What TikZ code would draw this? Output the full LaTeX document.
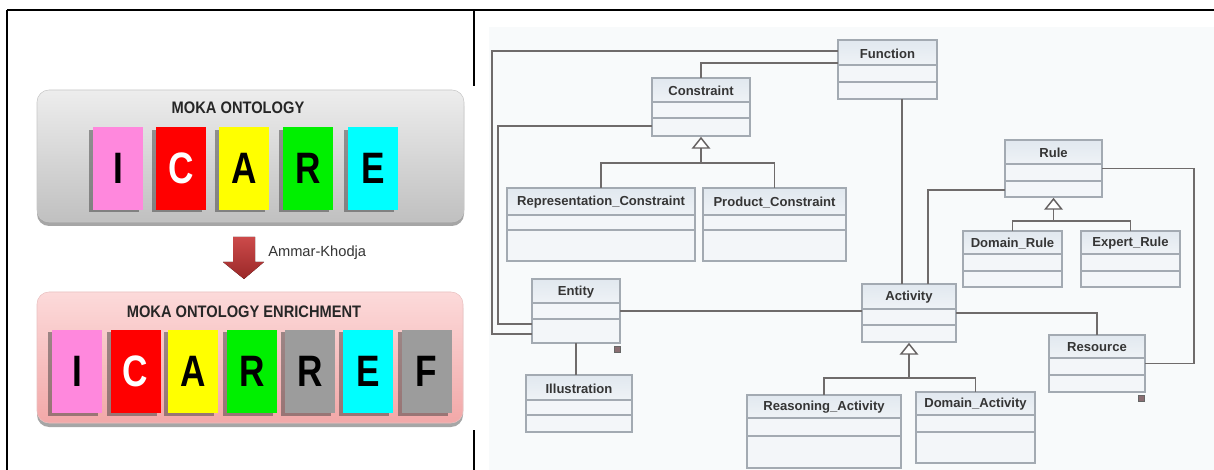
\documentclass[tikz,border=0pt]{standalone}
\usepackage{fontspec}
\usepackage{graphicx}
\setmainfont{Liberation Sans}
\newfontfamily\narrowsans{Liberation Sans}[FakeStretch=0.88]
\usetikzlibrary{calc,fit,shadows}

\definecolor{tilepink}{HTML}{FF88DD}
\definecolor{tilered}{HTML}{FF0000}
\definecolor{tileyellow}{HTML}{FFFF00}
\definecolor{tilegreen}{HTML}{00F000}
\definecolor{tilecyan}{HTML}{00FFFF}
\definecolor{tilegray}{HTML}{9C9C9C}
\definecolor{umlline}{HTML}{A3AAB2}
\definecolor{umlhead}{HTML}{E1E8EF}
\definecolor{umlbody}{HTML}{F3F6F9}
\definecolor{connline}{HTML}{6F6B6B}
\definecolor{inktext}{HTML}{353535}
\definecolor{paneback}{HTML}{F8FAFB}
\definecolor{greytop}{HTML}{EDEDED}
\definecolor{greybot}{HTML}{C0C0C0}
\definecolor{pinktop}{HTML}{FCDADA}
\definecolor{pinkbot}{HTML}{F2A8A8}
\definecolor{arrowtop}{HTML}{CC4A4A}
\definecolor{arrowbot}{HTML}{9A2828}
\definecolor{markfill}{HTML}{8A6E72}

% narrowed bold capital for the letter tiles
\newcommand\tilechar[1]{\scalebox{0.8}[1]{\bfseries\fontsize{33}{33}\selectfont #1}}

\tikzset{
  x=0.75pt, y=-0.75pt,
  frame/.style={line width=1.5pt, black},
  panel/.style={rounded corners=9pt, inner sep=0pt, outer sep=0pt,
    drop shadow={shadow xshift=0pt, shadow yshift=-3pt, opacity=0.35, fill=black}},
  paneltitle/.style={font=\narrowsans\bfseries\fontsize{12.5}{14}\selectfont, text=black!85, inner sep=0pt},
  tile/.style={inner sep=0pt, minimum width=37.5pt, minimum height=62pt,
    drop shadow={shadow xshift=-3pt, shadow yshift=-2pt, fill=black!75, opacity=0.5}},
  umlframe/.style={inner sep=0pt, outer sep=0pt, fill=umlbody},
  umlhead/.style={top color=umlhead, bottom color=umlhead!55!white},
  umledge/.style={draw=umlline, line width=1pt},
  umltext/.style={font=\bfseries\fontsize{9.8}{11}\selectfont, text=inktext, inner sep=0pt},
  conn/.style={draw=connline, line width=1.4pt},
  gentri/.style={draw=connline!90!black, line width=1.1pt, fill=white, line join=miter},
  marker/.style={draw=black!60, fill=markfill, minimum size=4.5pt, inner sep=0pt, line width=0.5pt},
}

% UML class: name, x1, y1, x2, y2, first separator, second separator, title
\newcommand\umlclass[8]{%
  \node[umlframe, fit={(#2,#3) (#4,#5)}] (#1) {};
  \path[umlhead] (#2,#3) rectangle (#4,#6);
  \draw[umledge] (#2,#6) -- (#4,#6) (#2,#7) -- (#4,#7);
  \draw[umledge] (#1.north west) rectangle (#1.south east);
  \node[umltext] (#1-title) at ({(#2+#4)/2},{(#3+#6)/2+1}) {#8};
}

% generalisation triangle under a class, with the stem down to the bar
\newcommand\umlgen[2]{%
  \draw[conn] ($(#1.south)+(0,12)$) -- ($(#1.south)+(0,#2)$) coordinate (#1-bar);
  \draw[gentri] ($(#1.south)+(0,2)$) -- ++(8,10) -- ++(-16,0) -- cycle;
}

\begin{document}
\begin{tikzpicture}
\useasboundingbox (0,0) rectangle (1214,470);
\fill[white] (0,0) rectangle (1214,470);
\fill[paneback] (489,27) rectangle (1214,470);

% table rules
\draw[frame] (7,10) -- (1214,10);
\draw[frame] (7,10) -- (7,470);
\draw[frame] (474,10) -- (474,86);
\draw[frame] (474,430) -- (474,470);

% ---------- left: MOKA ontology ----------
\node[panel, draw=black!22, top color=greytop, bottom color=greybot,
      fit={(37,90) (464,222)}] (moka) {};
\node[paneltitle] (moka-title) at (238,108) {MOKA ONTOLOGY};
\node[tile, fill=tilepink]   (m1) at (118,168.5) {\tilechar{I}};
\node[tile, fill=tilered, text=white] (m2) at (181,168.5) {\tilechar{C}};
\node[tile, fill=tileyellow] (m3) at (244,168.5) {\tilechar{A}};
\node[tile, fill=tilegreen]  (m4) at (308,168.5) {\tilechar{R}};
\node[tile, fill=tilecyan]   (m5) at (373,168.5) {\tilechar{E}};

% enrichment arrow
\fill[top color=arrowtop, bottom color=arrowbot]
  (233,237) -- (255,237) -- (255,262) -- (264,262) -- (244,279)
  -- (223,262) -- (233,262) -- cycle;
\node[anchor=west, font=\fontsize{11}{13}\selectfont, text=inktext, inner sep=0pt]
  (author) at (268,253) {Ammar-Khodja};

\node[panel, draw=pinkbot!90!black!60, top color=pinktop, bottom color=pinkbot,
      fit={(37,292) (463,423)}] (enrich) {};
\node[paneltitle] (enrich-title) at (244,312) {MOKA ONTOLOGY ENRICHMENT};
\node[tile, minimum height=62.5pt, fill=tilepink]   (e1) at (77,371.5) {\tilechar{I}};
\node[tile, minimum height=62.5pt, fill=tilered, text=white] (e2) at (135.5,371.5) {\tilechar{C}};
\node[tile, minimum height=62.5pt, fill=tileyellow] (e3) at (193,371.5) {\tilechar{A}};
\node[tile, minimum height=62.5pt, fill=tilegreen]  (e4) at (252,371.5) {\tilechar{R}};
\node[tile, minimum height=62.5pt, fill=tilegray]   (e5) at (310,371.5) {\tilechar{R}};
\node[tile, minimum height=62.5pt, fill=tilecyan]   (e6) at (368,371.5) {\tilechar{E}};
\node[tile, minimum height=62.5pt, fill=tilegray]   (e7) at (426.5,371.5) {\tilechar{F}};

% ---------- right: class diagram ----------
\umlclass{fun}{838}{40}{937}{99}{65}{82}{Function}
\umlclass{con}{652}{78}{750}{136}{102}{118}{Constraint}
\umlclass{rep}{507}{188}{695}{261}{215}{230}{Representation\_Constraint}
\umlclass{pro}{703}{188}{846}{261}{215}{230}{Product\_Constraint}
\umlclass{rule}{1005}{140}{1102}{197}{164}{181}{Rule}
\umlclass{drule}{963}{231}{1062}{287}{254}{271}{Domain\_Rule}
\umlclass{erule}{1081}{231}{1180}{287}{254}{271}{Expert\_Rule}
\umlclass{ent}{532}{279}{620}{343}{303}{319}{Entity}
\umlclass{ill}{526}{375}{632}{432}{400}{415}{Illustration}
\umlclass{act}{862}{284}{956}{342}{309}{325}{Activity}
\umlclass{res}{1049}{335}{1145}{392}{358}{375}{Resource}
\umlclass{ract}{747}{395}{901}{468}{418}{436}{Reasoning\_Activity}
\umlclass{dact}{916}{392}{1035}{463}{415}{432}{Domain\_Activity}

% associations
\draw[conn] (fun.west |- 0,51) -| (492,334) -- (ent.west |- 0,334);
\draw[conn] (con.west |- 0,126) -| (498,324) -- (ent.west |- 0,324);
\draw[conn] (con.north) |- (fun.west |- 0,63);
\draw[conn] (fun.south -| 902,0) -- (act.north -| 902,0);
\draw[conn] (rule.west |- 0,190) -| (act.north -| 928,0);
\draw[conn] (ent.east) -- (ent.east -| act.west);
\draw[conn] (ent.south) -- (ent.south |- ill.north);
\draw[conn] (act.east) -| (res.north);
\draw[conn] (rule.east) -| ($(res.east)+(49,0)$) -- (res.east);

% generalisations
\umlgen{con}{27}
\draw[conn] (rep.north) |- (con-bar) -| (pro.north);
\umlgen{rule}{24}
\draw[conn] (drule.north) |- (rule-bar) -| (erule.north);
\umlgen{act}{36}
\draw[conn] (ract.north) |- (act-bar) -| (dact.north);

% composition markers
\node[marker] (ent-mark) at ($(ent.south east)+(-3,6)$) {};
\node[marker] (res-mark) at ($(res.south east)+(-4,6)$) {};
\end{tikzpicture}
\end{document}
